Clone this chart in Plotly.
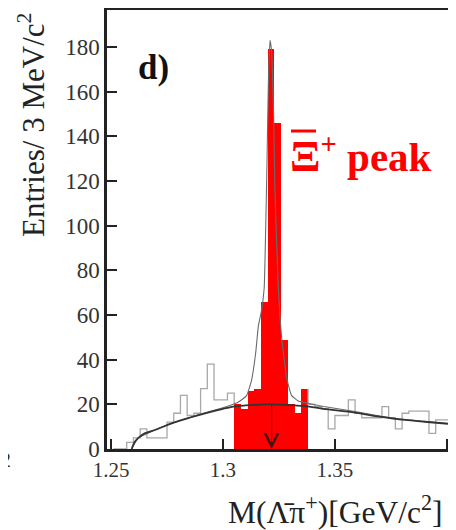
import plotly.graph_objects as go

# ---------------- data ----------------
bin_start = 1.251          # GeV/c^2, lower edge of first bin
bin_width = 0.003          # 3 MeV/c^2
counts = [0, 0, 3, 5, 9, 5, 5, 5, 12, 16,
          24, 15, 16, 27, 38, 22, 22, 25, 20, 18,
          26, 27, 66, 179, 146, 49, 20, 16, 27, 20,
          19, 18, 9, 15, 15, 22, 16, 14, 14, 14,
          19, 14, 9, 16, 17, 17, 17, 7, 13, 13]
signal_first_bin = 18      # red (signal window) bins 18..28
signal_last_bin = 28

bg_x = [1.2592, 1.2605, 1.2622, 1.2650, 1.2696, 1.2771, 1.2850, 1.2920, 1.3000, 1.3046,
        1.3100, 1.3150, 1.3215, 1.3280, 1.3366, 1.3450, 1.3589, 1.3700, 1.3813, 1.3900, 1.4005]
bg_y = [0, 3, 5, 7, 8.5, 11.5, 14, 16, 18, 19,
        19.5, 19.8, 20, 19.8, 19.2, 18, 16.3, 14.5, 13, 12.2, 11.3]

tot_x = [1.2592, 1.2622, 1.2696, 1.2771, 1.2920, 1.3000, 1.3046, 1.3076, 1.3106, 1.3128,
         1.3146, 1.3158, 1.3172, 1.3184, 1.3191, 1.3196, 1.3203, 1.3210, 1.3217, 1.3226,
         1.3232, 1.3246, 1.3262, 1.3284, 1.3306, 1.3336, 1.3366, 1.3450, 1.3589, 1.3700,
         1.3813, 1.4005]
tot_y = [0, 5, 8.5, 11.5, 16.2, 18.5, 20, 21.5, 24, 31,
         43, 55, 62, 72, 100, 125, 165, 183, 178, 150,
         116, 75, 50, 32, 24, 21.5, 20.8, 19, 16.8, 14.8,
         13.2, 11.4]

xi_mass = 1.3217           # arrow position
arrow_top = 20             # arrow starts at background level

x_ticks = [1.25, 1.3, 1.35, 1.4]
x_tick_text = ["1.25", "1.3", "1.35", "1.4"]
y_ticks = [0, 20, 40, 60, 80, 100, 120, 140, 160, 180]

# ---------------- build figure ----------------
edges = [bin_start + bin_width * i for i in range(len(counts) + 1)]
centers = [bin_start + bin_width * (i + 0.5) for i in range(len(counts))]

def step_path(i0, i1, start_level, end_level):
    xs, ys = [edges[i0]], [start_level]
    for i in range(i0, i1 + 1):
        xs += [edges[i], edges[i + 1]]
        ys += [counts[i], counts[i]]
    xs.append(edges[i1 + 1])
    ys.append(end_level)
    return xs, ys

lx, ly = step_path(0, signal_first_bin - 1, 0, counts[signal_first_bin])
rx, ry = step_path(signal_last_bin + 1, len(counts) - 1, counts[signal_last_bin], counts[-1])

FONT = "Liberation Serif"
fig = go.Figure()

fig.add_trace(go.Bar(
    x=centers[signal_first_bin:signal_last_bin + 1],
    y=counts[signal_first_bin:signal_last_bin + 1],
    width=bin_width, marker=dict(color="#ff0000", line=dict(width=0)),
    hoverinfo="skip", showlegend=False))

for xs, ys in [(lx, ly), (rx, ry)]:
    fig.add_trace(go.Scatter(x=xs, y=ys, mode="lines",
                             line=dict(color="#a8a8a8", width=1.3),
                             hoverinfo="skip", showlegend=False))

fig.add_trace(go.Scatter(x=tot_x, y=tot_y, mode="lines",
                         line=dict(color="#6a6a6a", width=1.1, shape="spline", smoothing=0.4),
                         hoverinfo="skip", showlegend=False))
fig.add_trace(go.Scatter(x=bg_x, y=bg_y, mode="lines",
                         line=dict(color="#333333", width=1.8, shape="spline", smoothing=0.8),
                         hoverinfo="skip", showlegend=False))

fig.add_annotation(x=xi_mass, y=0, ax=xi_mass, ay=arrow_top, xref="x", yref="y",
                   axref="x", ayref="y", showarrow=True, text="",
                   arrowhead=5, arrowsize=2.3, arrowwidth=1.1, arrowcolor="#4a1010", standoff=0)

# page body has an 8px margin: lay the figure out in reference pixels shifted by it
OFF = 8
W, H = 456 - OFF, 530 - OFF
PLOT_L, PLOT_R, PLOT_T, PLOT_B = 107, 448, 10, 449   # plot frame in reference pixels
L = PLOT_L - OFF
T = PLOT_T - OFF
R = W - (PLOT_R - OFF)
B = H - (PLOT_B - OFF)
pw, ph = PLOT_R - PLOT_L, PLOT_B - PLOT_T

def px(xpix):
    return (xpix - PLOT_L) / pw

def py(ypix):
    return (PLOT_B - ypix) / ph

fig.add_annotation(x=px(136), y=py(68), xref="paper", yref="paper", text="<b>d)</b>",
                   showarrow=False, xanchor="left", yanchor="middle",
                   font=dict(family=FONT, size=35, color="#111111"))
fig.add_annotation(x=px(288), y=py(154), xref="paper", yref="paper",
                   text="<b><span style='font-size:45px'>\u039e</span><sup>+</sup> peak</b>",
                   showarrow=False, xanchor="left", yanchor="middle",
                   font=dict(family=FONT, size=41, color="#ff0000"))
# overbar of the anti-Xi
fig.add_shape(type="line", xref="paper", yref="paper",
              x0=px(291), x1=px(316), y0=py(131), y1=py(131),
              line=dict(color="#ff0000", width=3))
fig.add_annotation(x=px(32), y=py(125), xref="paper", yref="paper",
                   text="Entries/ 3 MeV/c<sup>2</sup>", textangle=-90,
                   showarrow=False, xanchor="center", yanchor="middle",
                   font=dict(family=FONT, size=31, color="#222222"))
fig.add_annotation(x=px(444), y=py(510), xref="paper", yref="paper",
                   text="M(\u039b\u0304\u03c0<sup>+</sup>)[GeV/c<sup>2</sup>]",
                   showarrow=False, xanchor="right", yanchor="middle",
                   font=dict(family=FONT, size=31.5, color="#222222"))
# fragment of a neighbouring panel's label at the left edge
fig.add_annotation(x=px(13), y=py(459), xref="paper", yref="paper", text="2",
                   showarrow=False, xanchor="right", yanchor="middle",
                   font=dict(family=FONT, size=22, color="#333333"))

axis_common = dict(showgrid=False, zeroline=False, showline=True, linewidth=2.5,
                   linecolor="#222222", mirror=True, ticks="inside", ticklen=10,
                   tickwidth=1.5, tickcolor="#222222")

fig.update_layout(
    width=W, height=H, margin=dict(l=L, r=R, t=T, b=B, autoexpand=False),
    paper_bgcolor="white", plot_bgcolor="white", bargap=0,
    showlegend=False,
    xaxis=dict(range=[1.2482, 1.4005], tickvals=x_ticks, ticktext=x_tick_text,
               tickfont=dict(family=FONT, size=21, color="#333333"), **axis_common),
    yaxis=dict(range=[0, 196.6], tickvals=y_ticks,
               tickfont=dict(family=FONT, size=23, color="#333333"), **axis_common),
)

fig.write_html("out.html")
